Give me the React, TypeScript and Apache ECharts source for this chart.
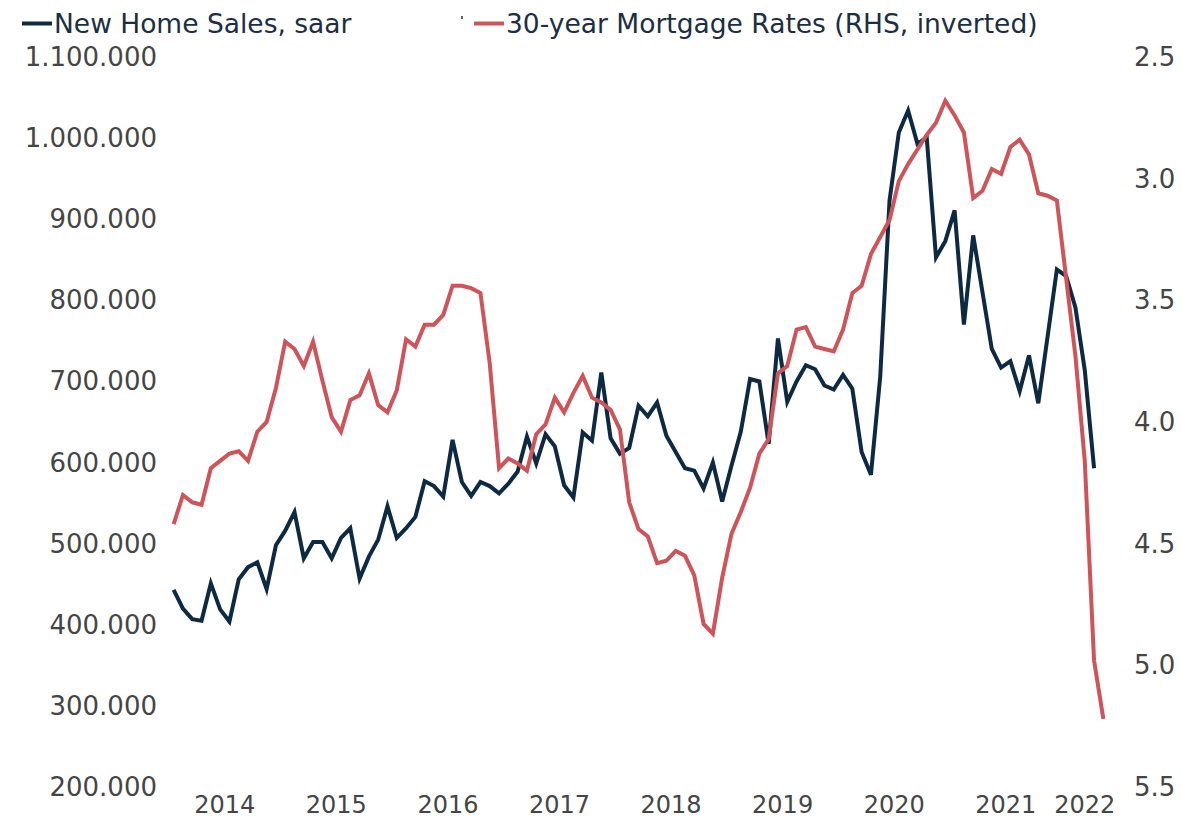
import React, { useEffect, useRef } from "react";
import * as echarts from "echarts";

// Monthly data, Jan 2014 onwards
const newHomeSales: number[] = [
  443000, 420000, 407000, 405000, 451000, 419000, 404000, 456000, 471000, 477000, 444000, 498000,
  516000, 539000, 482000, 502000, 502000, 482000, 507000, 519000, 457000, 484000, 505000, 546000,
  507000, 519000, 533000, 577000, 571000, 558000, 628000, 576000, 559000, 576000, 571000, 562000,
  574000, 589000, 632000, 599000, 635000, 620000, 572000, 557000, 637000, 627000, 711000, 630000,
  611000, 618000, 670000, 657000, 674000, 633000, 613000, 593000, 590000, 568000, 600000, 552000,
  596000, 638000, 703000, 700000, 623000, 753000, 675000, 700000, 720000, 715000, 695000, 690000,
  708000, 691000, 613000, 585000, 706000, 923000, 1007000, 1034000, 993000, 1001000, 853000, 873000,
  911000, 770000, 880000, 810000, 740000, 717000, 725000, 688000, 732000, 673000, 755000, 838000,
  830000, 791000, 714000, 593000,
];

const mortgageRates: number[] = [
  4.42, 4.30, 4.33, 4.34, 4.19, 4.16, 4.13, 4.12, 4.16, 4.04, 4.00, 3.86,
  3.67, 3.70, 3.77, 3.67, 3.83, 3.98, 4.04, 3.91, 3.89, 3.80, 3.93, 3.96,
  3.87, 3.66, 3.69, 3.60, 3.60, 3.56, 3.44, 3.44, 3.45, 3.47, 3.76, 4.19,
  4.15, 4.17, 4.20, 4.05, 4.01, 3.90, 3.96, 3.88, 3.81, 3.90, 3.92, 3.95,
  4.03, 4.33, 4.44, 4.47, 4.58, 4.57, 4.53, 4.55, 4.63, 4.83, 4.87, 4.64,
  4.46, 4.37, 4.27, 4.13, 4.07, 3.80, 3.77, 3.62, 3.61, 3.69, 3.70, 3.71,
  3.62, 3.47, 3.44, 3.31, 3.24, 3.17, 3.01, 2.94, 2.88, 2.82, 2.77, 2.68,
  2.74, 2.81, 3.08, 3.05, 2.96, 2.98, 2.87, 2.84, 2.90, 3.06, 3.07, 3.09,
  3.41, 3.73, 4.16, 4.98, 5.22,
];

const yearLabels: string[] = ["2014", "2015", "2016", "2017", "2018", "2019", "2020", "2021", "2022"];

const seriesNames = ["New Home Sales, saar", "30-year Mortgage Rates (RHS, inverted)"];

const FONT = "'DejaVu Sans', sans-serif";
const AXIS_COLOR = "#454545";
const NAVY = "#0e2a43";
const RED = "#cf545a";

export default function App() {
  const ref = useRef<HTMLDivElement>(null);

  useEffect(() => {
    document.body.style.margin = "0";
    if (!ref.current) return;
    const chart = echarts.init(ref.current, undefined, { renderer: "svg" });

    const totalMonths = mortgageRates.length; // 101
    // year label positions: middle of each year's months (index units)
    const labelAt = (v: number): string => {
      const r = Math.round(v * 2) / 2;
      for (let k = 0; k < yearLabels.length; k++) {
        const start = k * 12;
        const end = Math.min(start + 11, totalMonths - 1);
        const mid = (start + end) / 2;
        if (Math.abs(r - mid) < 0.01) return yearLabels[k];
      }
      return "";
    };

    const legendText = { fontSize: 26.5, color: "#1c2e42", fontFamily: FONT, padding: [0, 0, 0, -3] };

    chart.setOption({
      animation: false,
      textStyle: { fontFamily: FONT },
      grid: { left: 169, right: 73, top: 57, bottom: 34, containLabel: false },
      legend: [
        {
          data: [seriesNames[0]],
          left: 22,
          top: 10,
          padding: 0,
          icon: "rect",
          itemWidth: 30,
          itemHeight: 4,
          itemGap: 0,
          textStyle: legendText,
        },
        {
          data: [seriesNames[1]],
          left: 474,
          top: 10,
          padding: 0,
          icon: "rect",
          itemWidth: 30,
          itemHeight: 4,
          itemGap: 0,
          textStyle: legendText,
        },
      ],
      graphic: [
        { type: "rect", shape: { x: 461, y: 16, width: 2, height: 3 }, style: { fill: "#666" } },
      ],
      xAxis: {
        type: "value",
        min: -0.5,
        max: totalMonths - 0.5,
        interval: 0.5,
        axisLine: { show: false },
        axisTick: { show: false },
        splitLine: { show: false },
        axisLabel: {
          show: true,
          margin: 6,
          fontSize: 24,
          color: AXIS_COLOR,
          fontFamily: FONT,
          formatter: (v: number) => labelAt(v),
          showMinLabel: true,
          showMaxLabel: true,
        },
      },
      yAxis: [
        {
          type: "value",
          min: 200000,
          max: 1100000,
          interval: 100000,
          axisLine: { show: false },
          axisTick: { show: false },
          splitLine: { show: false },
          axisLabel: {
            margin: 12,
            fontSize: 26,
            color: AXIS_COLOR,
            fontFamily: FONT,
            formatter: (v: number) => Math.round(v).toString().replace(/\B(?=(\d{3})+(?!\d))/g, "."),
          },
        },
        {
          type: "value",
          min: 2.5,
          max: 5.5,
          interval: 0.5,
          inverse: true,
          axisLine: { show: false },
          axisTick: { show: false },
          splitLine: { show: false },
          axisLabel: {
            margin: 26,
            fontSize: 26,
            color: AXIS_COLOR,
            fontFamily: FONT,
            formatter: (v: number) => v.toFixed(1),
          },
        },
      ],
      series: [
        {
          name: seriesNames[0],
          type: "line",
          yAxisIndex: 0,
          data: newHomeSales.map((v, i) => [i, v]),
          showSymbol: false,
          lineStyle: { width: 4, color: NAVY, join: "miter" },
          itemStyle: { color: NAVY },
        },
        {
          name: seriesNames[1],
          type: "line",
          yAxisIndex: 1,
          data: mortgageRates.map((v, i) => [i, v]),
          showSymbol: false,
          lineStyle: { width: 4, color: RED, join: "miter" },
          itemStyle: { color: RED },
        },
      ],
    });

    return () => chart.dispose();
  }, []);

  return <div ref={ref} style={{ width: 1181, height: 821 }} />;
}
